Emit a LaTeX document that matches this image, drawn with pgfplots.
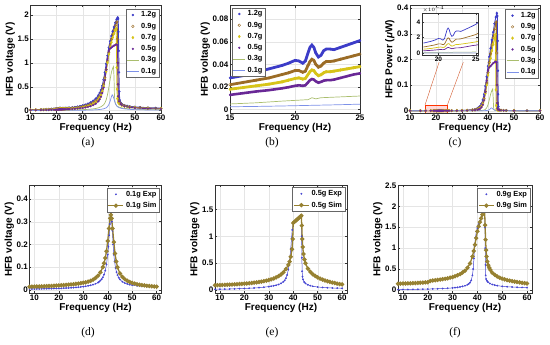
\documentclass[border=0pt]{standalone}
\usepackage{fontspec}
\setmainfont{Liberation Sans}
\newfontfamily\capfont{Liberation Serif}
\usepackage{pgfplots}
\usepackage{pgfplotstable}
\pgfplotsset{compat=1.18}
\definecolor{cA}{RGB}{60,60,200}
\definecolor{cB}{RGB}{155,108,38}
\definecolor{cC}{RGB}{215,196,25}
\definecolor{cD}{RGB}{105,40,150}
\definecolor{cE}{RGB}{170,190,110}
\definecolor{cF}{RGB}{125,145,232}
\definecolor{cExp}{RGB}{70,70,210}
\definecolor{cSim}{RGB}{150,128,48}

% ---------- voltage data (V) ----------
\pgfplotstableread{
f v
10 0.020
12 0.022
14 0.025
15 0.028
16 0.030
17 0.033
18 0.036
19 0.039
19.5 0.041
20 0.0435
20.3 0.043
20.6 0.041
20.8 0.043
21 0.050
21.15 0.055
21.3 0.057
21.45 0.055
21.6 0.050
21.8 0.0465
22 0.048
22.2 0.052
22.4 0.0535
22.7 0.0535
23 0.053
23.5 0.055
24 0.057
24.5 0.059
25 0.061
26 0.067
27 0.074
28 0.083
29 0.094
30 0.108
31 0.124
32 0.145
33 0.170
34 0.205
35 0.250
36 0.320
36.5 0.370
37 0.430
37.5 0.520
38 0.650
38.5 0.800
39 0.980
39.5 1.150
40 1.320
40.5 1.450
41 1.560
41.5 1.660
42 1.750
42.5 1.840
43 1.910
43.4 1.950
43.6 1.920
43.7 1.650
43.8 1.250
43.9 0.800
44.0 0.400
44.2 0.220
44.5 0.170
45 0.140
46 0.115
47 0.100
48 0.090
50 0.078
52 0.070
55 0.062
58 0.055
60 0.050
}\vA
\pgfplotstableread{
f v
10 0.016
12 0.018
14 0.020
15 0.022
16 0.024
17 0.026
18 0.028
19 0.031
19.5 0.0325
20 0.0345
20.3 0.0345
20.6 0.033
20.8 0.034
21 0.039
21.15 0.0425
21.3 0.0445
21.45 0.0435
21.6 0.040
21.8 0.0375
22 0.0385
22.2 0.041
22.4 0.0425
22.7 0.0425
23 0.043
23.5 0.0445
24 0.046
24.5 0.0475
25 0.049
26 0.054
27 0.060
28 0.067
29 0.076
30 0.087
31 0.100
32 0.117
33 0.138
34 0.167
35 0.205
36 0.265
36.5 0.305
37 0.360
37.5 0.440
38 0.550
38.5 0.690
39 0.860
39.5 1.040
40 1.220
40.5 1.370
41 1.490
41.5 1.600
42 1.690
42.5 1.780
43 1.850
43.2 1.860
43.35 1.500
43.45 1.000
43.55 0.550
43.65 0.300
43.9 0.200
44.5 0.150
45 0.125
46 0.100
47 0.088
48 0.079
50 0.068
52 0.061
55 0.053
58 0.047
60 0.044
}\vB
\pgfplotstableread{
f v
10 0.013
12 0.0145
14 0.016
15 0.018
16 0.0195
17 0.021
18 0.0225
19 0.0245
19.5 0.026
20 0.0275
20.3 0.028
20.6 0.027
20.8 0.0275
21 0.031
21.15 0.0335
21.3 0.035
21.45 0.0345
21.6 0.032
21.8 0.030
22 0.0308
22.2 0.0325
22.4 0.0335
22.7 0.0335
23 0.034
23.5 0.035
24 0.036
24.5 0.037
25 0.038
26 0.042
27 0.047
28 0.053
29 0.060
30 0.069
31 0.080
32 0.094
33 0.112
34 0.137
35 0.170
36 0.225
36.5 0.265
37 0.320
37.5 0.400
38 0.510
38.5 0.650
39 0.820
39.5 1.000
40 1.180
40.5 1.320
41 1.430
41.5 1.530
42 1.610
42.5 1.680
42.8 1.720
42.95 1.400
43.05 0.900
43.15 0.450
43.3 0.250
43.6 0.170
44 0.140
45 0.110
46 0.090
48 0.072
50 0.062
55 0.048
60 0.040
}\vC
\pgfplotstableread{
f v
10 0.009
12 0.010
14 0.0118
15 0.013
16 0.0145
17 0.016
18 0.0172
19 0.0188
19.5 0.0198
20 0.021
20.3 0.0215
20.6 0.021
20.8 0.0215
21 0.024
21.15 0.026
21.3 0.027
21.45 0.0265
21.6 0.025
21.8 0.0238
22 0.0245
22.2 0.0255
22.4 0.026
22.7 0.026
23 0.0265
23.5 0.028
24 0.0295
24.5 0.031
25 0.032
26 0.035
27 0.039
28 0.044
29 0.050
30 0.057
31 0.066
32 0.078
33 0.094
34 0.115
35 0.145
36 0.195
36.5 0.235
37 0.290
37.5 0.370
38 0.480
38.5 0.640
39 0.850
39.5 1.080
40 1.250
40.5 1.300
41 1.320
41.5 1.340
42 1.360
42.5 1.375
43 1.385
43.3 1.375
43.45 1.000
43.55 0.550
43.65 0.300
43.9 0.190
44.5 0.140
45 0.115
46 0.090
48 0.068
50 0.056
55 0.042
60 0.034
}\vD
\pgfplotstableread{
f v
10 0.004
15 0.005
17 0.006
19 0.0075
21 0.0088
21.3 0.0105
21.6 0.0095
22 0.0105
25 0.012
28 0.016
30 0.020
32 0.026
34 0.036
35 0.045
36 0.058
37 0.080
38 0.120
38.5 0.160
39 0.225
39.5 0.330
40 0.480
40.5 0.650
41 0.800
41.5 0.890
41.8 0.920
42.0 0.700
42.15 0.350
42.3 0.200
42.6 0.140
43 0.100
44 0.070
46 0.045
50 0.030
55 0.022
60 0.018
}\vE
\pgfplotstableread{
f v
10 0.0015
15 0.0025
17 0.0028
19 0.0032
21 0.0037
23 0.0042
25 0.0048
28 0.0065
30 0.008
32 0.0105
34 0.0145
35 0.017
36 0.021
37 0.027
38 0.037
39 0.058
39.5 0.082
40 0.125
40.5 0.195
41 0.290
41.3 0.330
41.6 0.310
42 0.240
42.5 0.150
43 0.100
43.5 0.075
44 0.060
45 0.045
46 0.036
48 0.026
50 0.020
55 0.013
60 0.010
}\vF

% ---------- power data (uW) ----------
\pgfplotstableread{
f p
10 0.00004
14 0.0000625
16 0.00009
18 0.0001296
19 0.0001521
19.5 0.0001681
20 0.0001892
20.3 0.0001849
20.6 0.0001681
20.8 0.0001849
21 0.00025
21.15 0.0003025
21.3 0.0003249
21.45 0.0003025
21.6 0.00025
21.8 0.0002162
22 0.0002304
22.2 0.0002704
22.4 0.0002862
22.7 0.0002862
23 0.0002809
23.5 0.0003025
24 0.0003249
24.5 0.0003481
25 0.0003721
26 0.000449
28 0.000689
30 0.00117
32 0.0021
34 0.0042
35 0.00625
36 0.01024
36.5 0.0137
37 0.0185
37.5 0.027
38 0.0423
38.5 0.064
39 0.096
39.5 0.132
40 0.174
40.5 0.210
41 0.243
41.5 0.276
42 0.306
42.5 0.339
43 0.365
43.4 0.380
43.6 0.369
43.7 0.272
43.8 0.156
43.9 0.064
44.0 0.016
44.2 0.0048
44.5 0.0029
45 0.002
47 0.001
50 0.0006
55 0.0004
60 0.00025
}\pA
\pgfplotstableread{
f p
10 0.0000256
14 0.00004
16 0.0000576
18 0.0000784
19 0.0000961
19.5 0.0001056
20 0.000119
20.3 0.000119
20.6 0.0001089
20.8 0.0001156
21 0.0001521
21.15 0.0001806
21.3 0.000198
21.45 0.0001892
21.6 0.00016
21.8 0.0001406
22 0.0001482
22.2 0.0001681
22.4 0.0001806
22.7 0.0001806
23 0.0001849
23.5 0.000198
24 0.0002116
24.5 0.0002256
25 0.0002401
26 0.000292
28 0.000449
30 0.00076
32 0.00137
34 0.00279
35 0.0042
36 0.00702
36.5 0.0093
37 0.01296
37.5 0.01936
38 0.03025
38.5 0.0476
39 0.074
39.5 0.108
40 0.1488
40.5 0.1877
41 0.222
41.5 0.256
42 0.2856
42.5 0.3168
43 0.3423
43.2 0.346
43.35 0.225
43.45 0.100
43.55 0.030
43.65 0.009
43.9 0.004
44.5 0.00225
45 0.0016
47 0.00077
50 0.00046
55 0.00028
60 0.00019
}\pB
\pgfplotstableread{
f p
10 0.0000169
14 0.0000256
16 0.000038
18 0.0000506
19 0.00006
19.5 0.0000676
20 0.0000756
20.3 0.0000784
20.6 0.0000729
20.8 0.0000756
21 0.0000961
21.15 0.0001122
21.3 0.0001225
21.45 0.000119
21.6 0.0001024
21.8 0.00009
22 0.0000949
22.2 0.0001056
22.4 0.0001122
22.7 0.0001122
23 0.0001156
23.5 0.0001225
24 0.0001296
24.5 0.0001369
25 0.0001444
26 0.000176
28 0.000281
30 0.00048
32 0.00088
34 0.00188
35 0.00289
36 0.00506
36.5 0.00702
37 0.01024
37.5 0.016
38 0.026
38.5 0.04225
39 0.0672
39.5 0.100
40 0.139
40.5 0.174
41 0.2045
41.5 0.234
42 0.259
42.5 0.282
42.8 0.296
42.95 0.196
43.05 0.081
43.15 0.020
43.3 0.00625
43.6 0.0029
44 0.002
46 0.0008
50 0.00038
60 0.00016
}\pC
\pgfplotstableread{
f p
10 0.0000081
14 0.0000139
16 0.000021
18 0.0000296
19 0.0000353
19.5 0.0000392
20 0.0000441
20.3 0.0000462
20.6 0.0000441
20.8 0.0000462
21 0.0000576
21.15 0.0000676
21.3 0.0000729
21.45 0.0000702
21.6 0.0000625
21.8 0.0000566
22 0.00006
22.2 0.000065
22.4 0.0000676
22.7 0.0000676
23 0.0000702
23.5 0.0000784
24 0.000087
24.5 0.0000961
25 0.0001024
26 0.0001225
28 0.000194
30 0.000325
32 0.00061
34 0.00132
35 0.0021
36 0.0038
36.5 0.0055
37 0.0084
37.5 0.0137
38 0.023
38.5 0.041
39 0.07225
39.5 0.1166
40 0.156
40.5 0.169
41 0.174
41.5 0.1796
42 0.185
42.5 0.189
43 0.1918
43.3 0.189
43.45 0.100
43.55 0.030
43.65 0.009
43.9 0.0036
44.5 0.002
46 0.0008
50 0.0003
60 0.00012
}\pD
\pgfplotstableread{
f p
10 0.0000016
18 0.0000046
21 0.0000077
21.3 0.000011
21.6 0.000009
22 0.000011
25 0.0000144
30 0.00004
34 0.00013
36 0.00034
37 0.00064
38 0.00144
38.5 0.00256
39 0.00506
39.5 0.0109
40 0.023
40.5 0.04225
41 0.064
41.5 0.0792
41.8 0.0846
42.0 0.049
42.15 0.01225
42.3 0.004
42.6 0.00196
43 0.001
44 0.0005
50 0.00009
60 0.00003
}\pE
\pgfplotstableread{
f p
10 0.0000002
18 0.0000009
25 0.0000023
30 0.0000064
36 0.000044
38 0.000137
39 0.000336
39.5 0.00067
40 0.00156
40.5 0.0038
41 0.0084
41.3 0.0109
41.6 0.0096
42 0.00576
42.5 0.00225
43 0.001
44 0.00036
46 0.00013
50 0.00004
60 0.00001
}\pF

% ---------- Exp / Sim ----------
\pgfplotstableread{
f v
8 0.004
9 0.004
10 0.0042
11 0.0044
12 0.0046
13 0.0048
14 0.005
15 0.0052
16 0.0055
17 0.0058
18 0.006
19 0.0063
20 0.0067
21 0.007
22 0.0075
23 0.008
24 0.0086
25 0.0093
26 0.010
27 0.011
28 0.012
29 0.013
30 0.0145
31 0.016
32 0.018
33 0.020
34 0.023
35 0.027
36 0.032
36.5 0.036
37 0.041
37.5 0.047
38 0.055
38.5 0.067
39 0.085
39.5 0.112
40 0.155
40.3 0.19
40.6 0.24
40.9 0.29
41.1 0.32
41.3 0.34
41.5 0.33
41.7 0.30
41.9 0.26
42.2 0.20
42.5 0.155
42.8 0.125
43.2 0.097
43.6 0.078
44 0.065
44.5 0.054
45 0.046
46 0.036
47 0.030
48 0.026
49 0.023
50 0.021
52 0.018
54 0.016
56 0.015
58 0.0145
60 0.016
}\dE
\pgfplotstableread{
f v
8 0.014
9 0.0142
10 0.0145
11 0.0148
12 0.015
13 0.0155
14 0.016
15 0.0165
16 0.017
17 0.0175
18 0.018
19 0.0188
20 0.0195
21 0.020
22 0.021
23 0.022
24 0.023
25 0.024
26 0.025
27 0.0265
28 0.028
29 0.0295
30 0.031
31 0.033
32 0.036
33 0.040
34 0.045
35 0.052
36 0.062
37 0.077
38 0.100
38.5 0.117
39 0.140
39.5 0.170
40 0.215
40.5 0.270
41 0.315
41.3 0.330
41.6 0.315
42 0.270
42.5 0.210
43 0.160
43.5 0.125
44 0.100
45 0.072
46 0.057
47 0.047
48 0.040
49 0.035
50 0.031
51 0.028
52 0.025
53 0.023
54 0.021
55 0.0195
56 0.018
57 0.017
58 0.016
59 0.015
60 0.014
}\dS
\pgfplotstableread{
f v
8 0.015
10 0.016
12 0.018
14 0.020
16 0.023
18 0.026
20 0.030
22 0.034
24 0.039
26 0.045
28 0.054
30 0.065
31 0.072
32 0.080
33 0.090
34 0.104
35 0.125
36 0.155
36.5 0.18
37 0.22
37.5 0.28
38 0.38
38.5 0.54
39 0.77
39.3 0.96
39.6 1.12
40 1.24
40.5 1.27
41 1.29
41.5 1.31
42 1.33
42.5 1.35
43 1.37
43.3 1.37
43.45 1.00
43.55 0.60
43.65 0.35
43.8 0.25
44 0.20
44.5 0.15
45 0.125
46 0.098
47 0.082
48 0.071
50 0.057
52 0.049
54 0.043
56 0.039
58 0.036
60 0.033
}\eE
\pgfplotstableread{
f v
8 0.090
9 0.0915
10 0.093
11 0.095
12 0.097
13 0.099
14 0.101
15 0.1035
16 0.106
17 0.109
18 0.112
19 0.115
20 0.119
21 0.123
22 0.127
23 0.132
24 0.137
25 0.143
26 0.149
27 0.157
28 0.165
29 0.175
30 0.186
31 0.199
32 0.215
33 0.235
34 0.26
35 0.29
36 0.33
37 0.39
38 0.47
38.5 0.53
39 0.62
39.5 0.76
39.8 0.95
40 1.25
40.5 1.27
41 1.29
41.5 1.31
42 1.33
42.5 1.35
43 1.37
43.3 1.385
43.5 1.20
43.7 0.95
43.9 0.80
44.2 0.67
44.6 0.57
45 0.50
46 0.40
47 0.34
48 0.295
49 0.262
50 0.235
51 0.213
52 0.195
53 0.179
54 0.165
55 0.152
56 0.14
57 0.13
58 0.12
59 0.112
60 0.105
}\eS
\pgfplotstableread{
f v
8 0.010
10 0.011
12 0.012
14 0.014
16 0.016
18 0.018
20 0.021
22 0.024
24 0.028
26 0.033
28 0.040
30 0.049
31 0.055
32 0.062
33 0.072
34 0.085
35 0.100
36 0.125
36.5 0.145
37 0.175
37.5 0.23
38 0.35
38.3 0.50
38.6 0.75
38.9 1.05
39.2 1.25
39.6 1.40
40 1.48
40.5 1.57
41 1.65
41.5 1.73
42 1.81
42.5 1.88
42.9 1.91
43.05 1.50
43.15 1.00
43.25 0.60
43.35 0.35
43.5 0.26
43.8 0.22
44.2 0.19
45 0.155
46 0.13
47 0.115
48 0.103
50 0.087
52 0.077
54 0.070
56 0.064
58 0.060
60 0.056
}\fE
\pgfplotstableread{
f v
8 0.150
9 0.151
10 0.153
11 0.155
12 0.157
13 0.159
14 0.162
15 0.165
16 0.168
17 0.172
18 0.176
19 0.181
20 0.186
21 0.215
22 0.225
23 0.232
24 0.240
25 0.248
26 0.257
27 0.267
28 0.278
29 0.292
30 0.308
31 0.327
32 0.350
33 0.378
34 0.415
35 0.460
36 0.530
37 0.630
38 0.800
38.5 0.930
39 1.080
39.5 1.240
40 1.400
40.5 1.520
41 1.620
41.5 1.710
42 1.800
42.5 1.880
42.9 1.910
43.1 1.550
43.3 1.200
43.5 0.950
43.7 0.800
44 0.680
44.4 0.590
44.8 0.530
45.2 0.480
46 0.410
47 0.360
48 0.320
49 0.292
50 0.270
51 0.252
52 0.235
53 0.222
54 0.210
55 0.200
56 0.190
57 0.180
58 0.170
59 0.162
60 0.155
}\fS

\pgfplotsset{
  myax/.style={
    scale only axis, anchor=south west, clip=true,
    axis line style={black!80, line width=0.5pt},
    tick style={black!80, line width=0.4pt}, major tick length=2pt,
    grid=major, major grid style={black!10, line width=0.3pt},
    tick label style={font=\bfseries\fontsize{8}{8}\selectfont},
    /pgf/number format/assume math mode=true,
    scaled ticks=false,
    yticklabel style={/pgf/number format/fixed, /pgf/number format/precision=2, inner sep=1.5pt},
    xticklabel style={inner sep=1.5pt},
    label style={font=\bfseries\fontsize{10}{10}\selectfont},
    xlabel style={inner sep=1pt},
    ylabel style={inner sep=1pt},
    legend cell align=left,
    legend style={font=\bfseries\fontsize{7.4}{8}\selectfont, draw=black!60, line width=0.4pt,
      inner sep=0.8pt, row sep=0.6pt, fill=white},
    legend image code/.code={\draw[mark repeat=2,mark phase=2,##1] plot coordinates {(0pt,0pt) (6pt,0pt) (12pt,0pt)};},
  },
  botax/.style={myax,
    xmin=8, xmax=62, xtick={10,20,...,60},
    xlabel={Frequency (Hz)}, ylabel={HFB voltage (V)},
    legend image code/.code={\draw[mark repeat=2,mark phase=2,##1] plot coordinates {(0pt,0pt) (7.5pt,0pt) (15pt,0pt)};},
  },
  expln/.style={cExp, line width=0.5pt, forget plot},
  expmk/.style={cExp, only marks, mark=*, mark size=0.7pt},
  simst/.style={cSim, line width=1.3pt, mark=*, mark size=1.45pt, mark options={fill=cSim!80!white}},
}

\begin{document}
\begin{tikzpicture}
\path[use as bounding box] (0pt,0pt) rectangle (550pt,345pt);

% ================= (a) =================
\begin{axis}[myax, at={(30.5pt,232pt)}, width=130.5pt, height=107.5pt,
  xmin=10, xmax=60, ymin=-0.05, ymax=2.2,
  xtick={10,20,...,60}, ytick={0,0.5,1,1.5,2},
  xlabel={Frequency (Hz)}, ylabel={HFB voltage (V)},
  legend style={at={(0.985,0.97)}, anchor=north east}]
\addplot[cA, line width=0.9pt, forget plot] table {\vA};
\addplot[cA, only marks, mark=*, mark size=1pt] table {\vA};
\addlegendentry{1.2g}
\addplot[cB, line width=0.9pt, forget plot] table {\vB};
\addplot[cB, only marks, mark=o, mark size=1.3pt] table {\vB};
\addlegendentry{0.9g}
\addplot[cC, line width=0.9pt, forget plot] table {\vC};
\addplot[cC, only marks, mark=diamond*, mark size=1.4pt] table {\vC};
\addlegendentry{0.7g}
\addplot[cD, line width=0.9pt, forget plot] table {\vD};
\addplot[cD, only marks, mark=*, mark size=0.9pt] table {\vD};
\addlegendentry{0.5g}
\addplot[cE, line width=0.7pt] table {\vE};
\addlegendentry{0.3g}
\addplot[cF, line width=0.7pt] table {\vF};
\addlegendentry{0.1g}
\end{axis}

% ================= (b) =================
\begin{axis}[myax, at={(230pt,232pt)}, width=130pt, height=107.5pt,
  xmin=15, xmax=25, ymin=-0.003, ymax=0.092,
  restrict x to domain=13:27,
  xtick={15,20,25}, ytick={0,0.02,0.04,0.06,0.08},
  xlabel={Frequency (Hz)}, ylabel={HFB voltage (V)},
  legend style={at={(0.015,0.98)}, anchor=north west}]
\addplot[cA, line width=2.8pt, forget plot] table {\vA};
\addplot[cA, only marks, mark=*, mark size=1pt] table {\vA};
\addlegendentry{1.2g}
\addplot[cB, line width=2.8pt, forget plot] table {\vB};
\addplot[cB, only marks, mark=o, mark size=1.3pt] table {\vB};
\addlegendentry{0.9g}
\addplot[cC, line width=2.8pt, forget plot] table {\vC};
\addplot[cC, only marks, mark=diamond*, mark size=1.4pt] table {\vC};
\addlegendentry{0.7g}
\addplot[cD, line width=2.6pt, forget plot] table {\vD};
\addplot[cD, only marks, mark=*, mark size=0.9pt] table {\vD};
\addlegendentry{0.5g}
\addplot[cE, line width=0.7pt] table {\vE};
\addlegendentry{0.3g}
\addplot[cF, line width=0.7pt] table {\vF};
\addlegendentry{0.1g}
\end{axis}

% ================= (c) =================
\begin{axis}[myax, at={(410pt,232pt)}, width=130pt, height=107.5pt,
  xmin=10, xmax=60, ymin=-0.009, ymax=0.41,
  xtick={10,20,...,60}, ytick={0,0.1,0.2,0.3,0.4},
  xlabel={Frequency (Hz)}, ylabel={HFB Power ({\itshape μ}W)},
  legend style={at={(0.99,0.965)}, anchor=north east}]
\addplot[cA, line width=0.9pt, forget plot] table {\pA};
\addplot[cA, only marks, mark=*, mark size=1pt] table {\pA};
\addlegendentry{1.2g}
\addplot[cB, line width=0.9pt, forget plot] table {\pB};
\addplot[cB, only marks, mark=o, mark size=1.3pt] table {\pB};
\addlegendentry{0.9g}
\addplot[cC, line width=0.9pt, forget plot] table {\pC};
\addplot[cC, only marks, mark=diamond*, mark size=1.4pt] table {\pC};
\addlegendentry{0.7g}
\addplot[cD, line width=0.9pt, forget plot] table {\pD};
\addplot[cD, only marks, mark=*, mark size=0.9pt] table {\pD};
\addlegendentry{0.5g}
\addplot[cE, line width=0.7pt] table {\pE};
\addlegendentry{0.3g}
\addplot[cF, line width=0.7pt] table {\pF};
\addlegendentry{0.1g}
\draw[draw=red!60!orange, fill=red!25, fill opacity=0.6, line width=0.4pt]
  (axis cs:15.8,-0.009) rectangle (axis cs:24.4,0.023);
\draw[brown!70!red, line width=0.4pt] (axis cs:15.8,0.023) -- (axis cs:21.2,0.189);
\draw[brown!70!red, line width=0.4pt] (axis cs:24.4,0.023) -- (axis cs:30.5,0.189);
\end{axis}

% inset
\begin{axis}[myax, at={(422pt,290pt)}, width=56pt, height=42pt,
  axis background/.style={fill=white},
  restrict x to domain=17:26,
  xmin=17.8, xmax=25.3, ymin=-0.000025, ymax=0.00052,
  xtick={20,25}, ytick={0,0.0002,0.0004},
  scaled y ticks=base 10:4, tick scale binop=\times,
  every y tick scale label/.style={at={(0,1)}, anchor=south west, inner sep=0.5pt,
     font=\fontsize{5.5}{5.5}\selectfont},
  tick label style={font=\bfseries\fontsize{6.5}{6.5}\selectfont},
  yticklabel style={/pgf/number format/fixed, /pgf/number format/precision=0}]
\addplot[cA, line width=0.7pt] table {\pA};
\addplot[cB, line width=0.7pt] table {\pB};
\addplot[cC, line width=0.7pt] table {\pC};
\addplot[cD, line width=0.7pt] table {\pD};
\addplot[cE, line width=0.5pt] table {\pE};
\addplot[cF, line width=0.5pt] table {\pF};
\end{axis}

% ================= (d) =================
\begin{axis}[botax, at={(29.5pt,51.7pt)}, width=132pt, height=108pt,
  ymin=-0.015, ymax=0.46, ytick={0,0.1,0.2,0.3,0.4},
  legend style={at={(0.985,0.975)}, anchor=north east}]
\addplot[expln] table {\dE};
\addplot[expmk] table {\dE};
\addlegendentry{0.1g Exp}
\addplot[simst] table {\dS};
\addlegendentry{0.1g Sim}
\end{axis}

% ================= (e) =================
\begin{axis}[botax, at={(215pt,51.7pt)}, width=132pt, height=108pt,
  ymin=-0.06, ymax=1.95, ytick={0,0.5,1,1.5},
  legend style={at={(0.985,0.98)}, anchor=north east}]
\addplot[expln] table {\eE};
\addplot[expmk] table {\eE};
\addlegendentry{0.5g Exp}
\addplot[simst] table {\eS};
\addlegendentry{0.5g Sim}
\end{axis}

% ================= (f) =================
\begin{axis}[botax, at={(398pt,51.7pt)}, width=134pt, height=108pt,
  ymin=-0.08, ymax=2.5, ytick={0,0.5,1,1.5,2,2.5},
  legend style={at={(0.985,0.975)}, anchor=north east}]
\addplot[expln] table {\fE};
\addplot[expmk] table {\fE};
\addlegendentry{0.9g Exp}
\addplot[simst] table {\fS};
\addlegendentry{0.9g Sim}
\end{axis}

% captions
\node[font=\capfont\fontsize{11.5}{11.5}\selectfont] at (88pt,202pt) {(a)};
\node[font=\capfont\fontsize{11.5}{11.5}\selectfont] at (272pt,202pt) {(b)};
\node[font=\capfont\fontsize{11.5}{11.5}\selectfont] at (455pt,202pt) {(c)};
\node[font=\capfont\fontsize{11.5}{11.5}\selectfont] at (88pt,12pt) {(d)};
\node[font=\capfont\fontsize{11.5}{11.5}\selectfont] at (272pt,12pt) {(e)};
\node[font=\capfont\fontsize{11.5}{11.5}\selectfont] at (455pt,12pt) {(f)};
\end{tikzpicture}
\end{document}
